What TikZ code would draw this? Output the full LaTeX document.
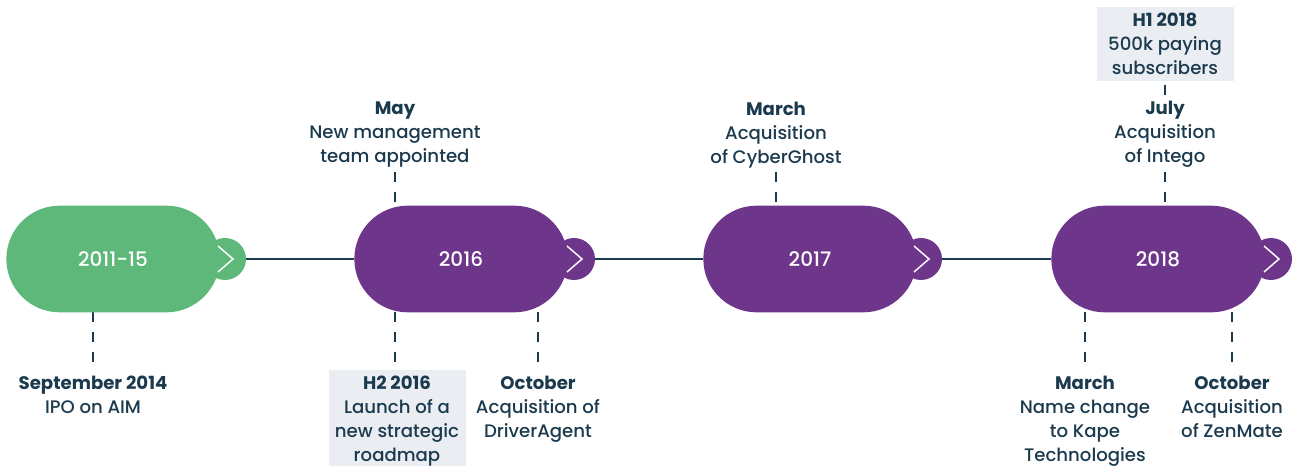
\documentclass[tikz,border=0pt]{standalone}
\usepackage{fontspec}
\setmainfont{Poppins}[UprightFont=* Medium,BoldFont=* Bold]
\usetikzlibrary{positioning,shapes.misc,calc}

\definecolor{navy}{HTML}{1B3A4E}
\definecolor{leaf}{HTML}{5DB87A}
\definecolor{plum}{HTML}{6E368B}
\definecolor{mist}{HTML}{EAEEF3}

\pgfdeclarelayer{back}
\pgfsetlayers{back,main}

\begin{document}
\begin{tikzpicture}[
  x=0.75pt,y=-0.75pt,
  pill/.style={rounded rectangle,minimum width=160pt,minimum height=80pt,
  inner sep=0pt,text=white,font=\fontsize{15}{16}\selectfont},
  knob/.style={circle,minimum size=31.5pt,inner sep=0pt},
  chev/.style={draw=white,line width=1.1pt},
  evt/.style={align=center,text=navy,inner sep=0pt,
  font=\fontsize{13.6}{18}\selectfont},
  hilite/.style={evt,fill=mist,minimum width=102.75pt,inner ysep=4.5pt},
  tick/.style={draw=navy,line width=1.5pt,dash pattern=on 7.5pt off 7.5pt},
  axis/.style={draw=navy,line width=1.5pt}
]
\useasboundingbox (0,0) rectangle (1293,466);

% year pills with their little arrow knobs
\node[pill,fill=leaf] (y11) at (113,259) {2011-15};
\node[knob,fill=leaf] (k11) at (225,259) {};
\node[pill,fill=plum] (y16) at (461,259) {2016};
\node[knob,fill=plum] (k16) at (574,259) {};
\node[pill,fill=plum] (y17) at (810,259) {2017};
\node[knob,fill=plum] (k17) at (921,259) {};
\node[pill,fill=plum] (y18) at (1158,259) {2018};
\node[knob,fill=plum] (k18) at (1271,259) {};

\foreach \k in {k11,k16,k17,k18}
  \draw[chev] ($(\k)+(-7,-13)$) -- ($(\k)+(8,0)$) -- ($(\k)+(-7,13)$);

% events above the line
\node[evt,anchor=south] (may) at (395,168) {\textbf{May}\\New management\\team appointed};
\node[evt,anchor=south] (mar17) at (776,168) {\textbf{March}\\Acquisition\\of CyberGhost};
\node[evt,anchor=south] (jul) at (1165,168) {\textbf{July}\\Acquisition\\of Intego};
\node[hilite,anchor=north] (h118) at (1165,7) {\textbf{H1 2018}\\500k paying\\subscribers};

% events below the line
\node[evt,anchor=north] (sep14) at (93,376) {\textbf{September 2014}\\IPO on AIM};
\node[hilite,anchor=north] (h216) at (397,370) {\textbf{H2 2016}\\Launch of a\\new strategic\\roadmap};
\node[evt,anchor=north] (oct16) at (538,376) {\textbf{October}\\Acquisition of\\DriverAgent};
\node[evt,anchor=north] (mar18) at (1085,376) {\textbf{March}\\Name change\\to Kape\\Technologies};
\node[evt,anchor=north] (oct18) at (1232,376) {\textbf{October}\\Acquisition\\of ZenMate};

\begin{pgfonlayer}{back}
\draw[axis] (k11.east) -- (y16.west);
\draw[axis] (k16.east) -- (y17.west);
\draw[axis] (k17.east) -- (y18.west);
\draw[tick,shorten <=3pt] (may.south) -- (may.south |- y16.center);
\draw[tick,shorten <=3pt] (mar17.south) -- (mar17.south |- y17.center);
\draw[tick,shorten <=3pt] (jul.south) -- (jul.south |- y18.center);
\draw[tick,shorten <=10.5pt] (sep14.north) -- (sep14.north |- y11.center);
\draw[tick,shorten <=6pt] (h216.north) ++(-2,0) -- (395,259);
\draw[tick,shorten <=10.5pt] (oct16.north) -- (oct16.north |- y16.center);
\draw[tick,shorten <=10.5pt] (mar18.north) -- (mar18.north |- y18.center);
\draw[tick,shorten <=10.5pt] (oct18.north) -- (oct18.north |- y18.center);
\end{pgfonlayer}
\draw[tick,shorten <=3pt] (h118.south) -- (jul.north);
\end{tikzpicture}
\end{document}
